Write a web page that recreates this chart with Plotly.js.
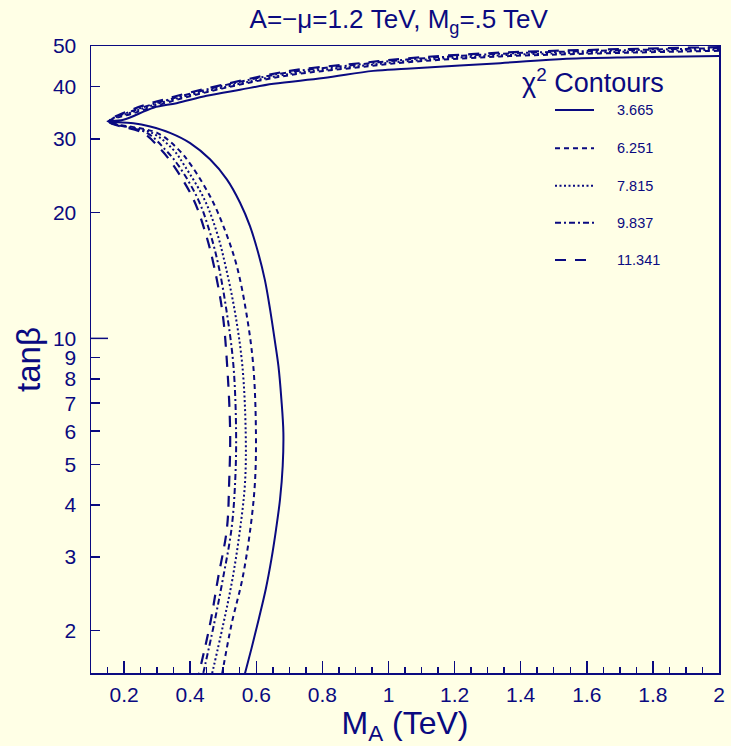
<!DOCTYPE html>
<html>
<head>
<meta charset="utf-8">
<script src="https://cdn.plot.ly/plotly-3.0.1.min.js"></script>
<style>html,body{margin:0;padding:0;background:#FFFFE6;}</style>
</head>
<body>
<div id="chart" style="width:731px;height:746px;"></div>
<script>
// ---- data ----
const levels = ['3.665', '6.251', '7.815', '9.837', '11.341'];

// chi2 = 3.665 (solid): upper branch (right -> tip) then lower branch
const solidX = [2.0, 1.740, 1.539, 1.338, 1.055, 0.954, 0.803, 0.652, 0.551, 0.450, 0.359, 0.289, 0.198, 0.150,
                0.228, 0.279, 0.339, 0.400, 0.460, 0.511, 0.551, 0.581, 0.606, 0.626, 0.642, 0.657, 0.667, 0.676,
                0.682, 0.680, 0.672, 0.660, 0.646, 0.629, 0.608, 0.586, 0.563];
const solidY = [47.3, 47.0, 46.6, 45.5, 44.1, 43.6, 41.9, 40.6, 39.3, 38.0, 36.5, 35.6, 33.3, 33.0,
                32.7, 32.1, 31.0, 29.3, 26.8, 24.0, 21.1, 18.55, 16.0, 13.8, 11.7, 9.77, 8.59, 7.15,
                5.96, 4.96, 4.13, 3.50, 2.97, 2.52, 2.14, 1.82, 1.55];

// shared x for upper branches / y for lower branches of the other contours
const upperX = [2.0, 1.640, 1.338, 1.055, 0.904, 0.702, 0.499, 0.339, 0.227, 0.155];
const lowerY = [31.0, 28.3, 25.8, 21.5, 17.9, 14.9, 11.5, 8.59, 5.96, 4.52, 3.50, 2.66, 2.07, 1.55];

// chi2 = 6.251 (dashed)
const c6Upper = [48.7, 48.0, 47.2, 45.7, 44.4, 42.6, 39.6, 36.8, 34.5, 33.0];
const c6Lower = [0.300, 0.364, 0.405, 0.465, 0.508, 0.541, 0.570, 0.591, 0.599, 0.596, 0.582, 0.558, 0.525, 0.495];
// chi2 = 7.815 (dotted)
const c7Upper = [49.0, 48.3, 47.5, 46.0, 44.7, 42.9, 39.8, 37.1, 34.8, 33.0];
const c7Lower = [0.284, 0.348, 0.384, 0.443, 0.481, 0.507, 0.536, 0.558, 0.568, 0.566, 0.551, 0.528, 0.500, 0.464];
// chi2 = 9.837 (dash-dot)
const c9Upper = [49.4, 48.7, 47.9, 46.4, 45.1, 43.3, 40.2, 37.3, 35.0, 33.0];
const c9Lower = [0.269, 0.324, 0.366, 0.424, 0.460, 0.486, 0.511, 0.531, 0.539, 0.536, 0.525, 0.499, 0.472, 0.437];
// chi2 = 11.341 (long dash)
const c11Upper = [49.7, 49.0, 48.2, 46.7, 45.4, 43.6, 40.4, 37.6, 35.3, 33.0];
const c11Lower = [0.257, 0.311, 0.351, 0.410, 0.446, 0.472, 0.498, 0.512, 0.521, 0.518, 0.511, 0.484, 0.460, 0.424];

const yTickVals = [2, 3, 4, 5, 6, 7, 8, 9, 10, 20, 30, 40, 50];
const yTickText = ['2', '3', '4', '5', '6', '7', '8', '9', '10', '20', '30', '40', '50'];

// ---- styling ----
const NAVY = '#0a0a80';
const BG = '#FFFFE6';
const dashes = ['solid', '5px,4px', '2px,2.5px', '6px,3px,2px,3px', '11px,9px'];
const widths = [2, 2, 2, 2, 2.2];

function contour(upper, lower) {
  return {x: upperX.concat(lower), y: upper.concat(lowerY)};
}
const curves = [
  {x: solidX, y: solidY},
  contour(c6Upper, c6Lower),
  contour(c7Upper, c7Lower),
  contour(c9Upper, c9Lower),
  contour(c11Upper, c11Lower)
];

const traces = curves.map((c, i) => ({
  x: c.x, y: c.y, type: 'scatter', mode: 'lines', name: levels[i],
  line: {color: NAVY, width: widths[i], dash: dashes[i], shape: 'spline', smoothing: 1},
  showlegend: false, hoverinfo: 'skip'
}));

// plot box geometry (px) for paper-referenced legend
const L = 91, R = 719, T = 46, B = 673;
const px = v => (v - L) / (R - L);
const py = v => (B - v) / (B - T);
const yLo = 0.2, yHi = Math.log10(50);

const FAM = 'Liberation Sans, Arial, sans-serif';
const legendRowsY = [110, 148.3, 185.7, 222.7, 260];
const shapes = [];
const annotations = [];
annotations.push({
  text: 'χ<sup>2</sup> Contours', xref: 'paper', yref: 'paper',
  x: px(520), y: py(81), xanchor: 'left', yanchor: 'middle', showarrow: false,
  font: {family: FAM, size: 27, color: NAVY}
});
levels.forEach((lv, i) => {
  shapes.push({type: 'line', xref: 'paper', yref: 'paper',
    x0: px(555), x1: px(594), y0: py(legendRowsY[i]), y1: py(legendRowsY[i]),
    line: {color: NAVY, width: widths[i], dash: dashes[i]}});
  annotations.push({text: lv, xref: 'paper', yref: 'paper', x: px(615), y: py(legendRowsY[i]),
    xanchor: 'left', yanchor: 'middle', showarrow: false,
    font: {family: FAM, size: 14.5, color: NAVY}});
});
// longer tick at tan(beta)=10
shapes.push({type: 'line', xref: 'paper', yref: 'paper', x0: 0, x1: 17 / (R - L),
  y0: (1 - yLo) / (yHi - yLo), y1: (1 - yLo) / (yHi - yLo), line: {color: NAVY, width: 1.5}});

const layout = {
  width: 731, height: 746,
  paper_bgcolor: BG, plot_bgcolor: BG,
  margin: {l: L, r: 731 - R, t: T, b: 746 - B, pad: 0},
  font: {family: FAM, color: NAVY},
  title: {text: 'A=−μ=1.2 TeV, M<sub>g</sub>=.5 TeV', x: 0.49, xref: 'paper', y: 1 - 19 / 746, yref: 'container',
          yanchor: 'middle', font: {family: FAM, size: 26, color: NAVY}},
  xaxis: {
    range: [0.1, 2], tick0: 0, dtick: 0.2, ticks: 'inside', ticklen: 12, tickwidth: 1.5, tickcolor: NAVY,
    showline: true, linecolor: NAVY, linewidth: 1.5, mirror: true, showgrid: false, zeroline: false,
    tickfont: {family: FAM, size: 21, color: NAVY}, ticklabelstandoff: 2,
    minor: {dtick: 0.05, tick0: 0, ticks: 'inside', ticklen: 6, tickwidth: 1.5, tickcolor: NAVY, showgrid: false},
    title: {text: 'M<sub>A</sub> (TeV)', font: {family: FAM, size: 32, color: NAVY}, standoff: 2}
  },
  yaxis: {
    type: 'log', range: [yLo, yHi], tickmode: 'array', tickvals: yTickVals, ticktext: yTickText,
    ticks: 'inside', ticklen: 9, tickwidth: 1.5, tickcolor: NAVY,
    showline: true, linecolor: NAVY, linewidth: 1.5, mirror: true, showgrid: false, zeroline: false,
    tickfont: {family: FAM, size: 21, color: NAVY}, ticklabelstandoff: 9,
    title: {text: 'tanβ', font: {family: FAM, size: 33, color: NAVY}, standoff: 2}
  },
  shapes: shapes,
  annotations: annotations,
  showlegend: false
};

Plotly.newPlot('chart', traces, layout, {displayModeBar: false, staticPlot: true});
</script>
</body>
</html>
